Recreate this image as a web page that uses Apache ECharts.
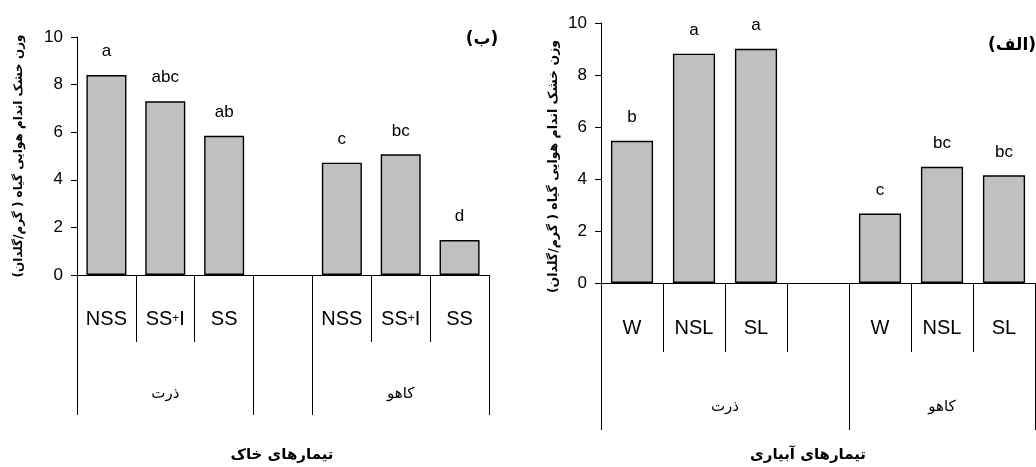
<!DOCTYPE html>
<html><head><meta charset="utf-8">
<script src="https://cdn.jsdelivr.net/npm/echarts@6/dist/echarts.min.js"></script>
<style>html,body{margin:0;padding:0;background:#fff}#c{width:1036px;height:467px}</style>
</head><body><div id="c"></div>
<script>
// ---- data ----
const soilCategories = ['NSS', 'SS+I', 'SS', '', 'NSS', 'SS+I', 'SS'];
const soilCorn = [8.4, 7.3, 5.85];
const soilLettuce = [4.72, 5.07, 1.47];
const soilLetters = ['a', 'abc', 'ab', '', 'c', 'bc', 'd'];
const irrCategories = ['W', 'NSL', 'SL', '', 'W', 'NSL', 'SL'];
const irrCorn = [5.47, 8.82, 9.01];
const irrLettuce = [2.67, 4.47, 4.14];
const irrLetters = ['b', 'a', 'a', '', 'c', 'bc', 'bc'];
const cropNames = ['ذرت', 'کاهو'];
const soilGroupSpans = [[0, 3], [4, 7]];
const irrGroupSpans = [[0, 4], [4, 7]];
const yMin = 0, yMax = 10, yInterval = 2;
const yName = 'وزن خشک اندام هوایی گیاه ( گرم/گلدان)';
const soilTitle = 'تیمارهای خاک';
const irrTitle = 'تیمارهای آبیاری';
const soilPanel = '(ب)';
const irrPanel = '(الف)';

const RLM = '\u200F';
const soilValues = [...soilCorn, '-', ...soilLettuce];
const irrValues = [...irrCorn, '-', ...irrLettuce];

function bounds(spans) {
  const s = new Set();
  spans.forEach(([a, b]) => { s.add(a); s.add(b); });
  return [...s].sort((x, y) => x - y);
}
function centers(spans) { return spans.map(([a, b]) => (a + b) / 2); }

const LATIN = 'Liberation Sans, Arial, sans-serif';
const PERSIAN = 'DejaVu Sans, sans-serif';

function catAxis(grid, cats, tickLen, margin) {
  return {
    type: 'category', gridIndex: grid, data: cats, position: 'bottom',
    axisLine: { show: true, lineStyle: { color: '#000', width: 1 } },
    axisTick: { show: true, interval: 0, length: tickLen, alignWithLabel: false, lineStyle: { color: '#000', width: 1 } },
    axisLabel: {
      interval: 0, margin: margin, fontSize: 20, color: '#000', fontFamily: LATIN,
      formatter: v => v.replace('+', '{p|+}'),
      rich: { p: { fontSize: 12, color: '#000', fontFamily: LATIN } }
    },
    splitLine: { show: false }
  };
}
function groupAxis(grid, spans, tickLen, margin) {
  const cs = centers(spans);
  return {
    type: 'value', gridIndex: grid, min: 0, max: 7, position: 'bottom',
    axisLine: { show: false },
    splitLine: { show: false },
    axisTick: { show: true, length: tickLen, customValues: bounds(spans), lineStyle: { color: '#000', width: 1 } },
    axisLabel: {
      customValues: cs, margin: margin, fontSize: 15, color: '#000', fontFamily: PERSIAN,
      formatter: v => { const i = cs.findIndex(c => Math.abs(c - v) < 1e-6); return i >= 0 ? cropNames[i] : ''; }
    }
  };
}
function yAxis(grid, gap, size, pad) {
  return {
    type: 'value', gridIndex: grid, min: yMin, max: yMax, interval: yInterval,
    axisLine: { show: true, lineStyle: { color: '#000', width: 1 } },
    axisTick: { show: true, length: 6, lineStyle: { color: '#000', width: 1 } },
    splitLine: { show: false },
    axisLabel: { fontSize: 17, color: '#000', margin: 14, fontFamily: LATIN },
    name: RLM + yName + RLM, nameLocation: 'middle', nameGap: gap, nameRotate: 90,
    nameTextStyle: { fontSize: size, fontWeight: 'bold', color: '#000', fontFamily: PERSIAN, padding: pad }
  };
}
function barSeries(xi, yi, values, letters) {
  return {
    type: 'bar', xAxisIndex: xi, yAxisIndex: yi, data: values, barCategoryGap: '32%',
    itemStyle: { color: '#C0C0C0', borderColor: '#000', borderWidth: 1.4 },
    label: { show: true, position: 'top', distance: 15, fontSize: 17, color: '#000', fontFamily: LATIN,
      formatter: p => letters[p.dataIndex] },
    silent: true
  };
}

const chart = echarts.init(document.getElementById('c'), null, { renderer: 'canvas' });
chart.setOption({
  animation: false,
  backgroundColor: '#fff',
  grid: [
    { left: 77, top: 37, width: 412, height: 238, containLabel: false, outerBoundsMode: 'none' },
    { left: 601, top: 23, width: 434, height: 260, containLabel: false, outerBoundsMode: 'none' }
  ],
  xAxis: [
    catAxis(0, soilCategories, 67, 34),
    groupAxis(0, soilGroupSpans, 140, 112),
    catAxis(1, irrCategories, 69, 35),
    groupAxis(1, irrGroupSpans, 147, 117)
  ],
  yAxis: [yAxis(0, 48, 12, [0, 0, 4, 0]), yAxis(1, 41, 12.5, [0, 27, 0, 0])],
  series: [
    barSeries(0, 0, soilValues, soilLetters),
    barSeries(2, 1, irrValues, irrLetters)
  ],
  graphic: [
    { type: 'text', x: 482, y: 40, style: { text: RLM + soilPanel + RLM, font: 'bold 17px ' + PERSIAN, fill: '#000', align: 'center', verticalAlign: 'middle' } },
    { type: 'text', x: 1012, y: 46, style: { text: RLM + irrPanel + RLM, font: 'bold 17px ' + PERSIAN, fill: '#000', align: 'center', verticalAlign: 'middle' } },
    { type: 'text', x: 282, y: 455, style: { text: RLM + soilTitle + RLM, font: 'bold 15px ' + PERSIAN, fill: '#000', align: 'center', verticalAlign: 'middle' } },
    { type: 'text', x: 808, y: 455, style: { text: RLM + irrTitle + RLM, font: 'bold 15px ' + PERSIAN, fill: '#000', align: 'center', verticalAlign: 'middle' } }
  ]
});
</script></body></html>
